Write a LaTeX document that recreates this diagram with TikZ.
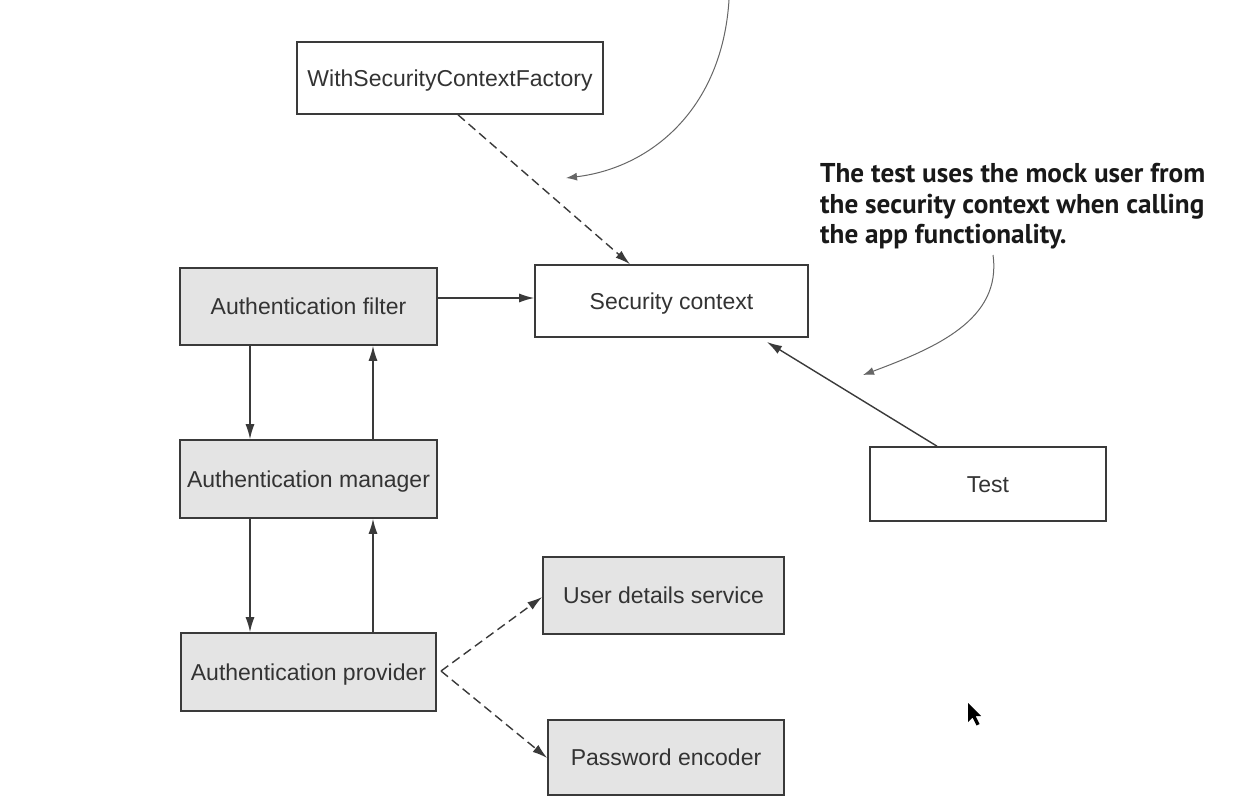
\documentclass[tikz,border=0pt]{standalone}
\usepackage{fontspec}
\setmainfont{Liberation Sans}
\newfontfamily\notefont{PT Sans}
\usetikzlibrary{arrows.meta}
\definecolor{boxgray}{HTML}{E4E4E4}
\definecolor{edge}{HTML}{3A3A3A}
\definecolor{txt}{HTML}{333333}
\tikzset{
  box/.style={draw=edge, line width=1.6pt, fill=white, inner sep=0pt, text=txt,
    text height=16.5pt, text depth=0pt,
    font=\fontsize{23}{26}\selectfont},
  graybox/.style={box, fill=boxgray},
  conn/.style={draw=edge, line width=1.4pt, -{Latex[length=15pt,width=9pt]}},
  dconn/.style={conn, dash pattern=on 9pt off 5pt},
  note/.style={draw=gray!80!black, line width=1pt, -{Latex[length=11pt,width=8pt]}},
}
\begin{document}
\begin{tikzpicture}[x=1pt,y=-1pt]
\useasboundingbox[fill=white] (0,0) rectangle (1244,811);
% nodes
\node[box, minimum width=306pt, minimum height=72pt] (wscf) at (450,78) {WithSecurityContextFactory};
\node[box, minimum width=273pt, minimum height=72pt] (sec) at (671.5,301) {Security context};
\node[graybox, minimum width=257pt, minimum height=77pt] (filt) at (308.5,306.5) {Authentication filter};
\node[graybox, minimum width=257pt, minimum height=78pt] (mgr) at (308.5,479) {Authentication manager};
\node[graybox, minimum width=255pt, minimum height=78pt] (prov) at (308.5,672) {Authentication provider};
\node[graybox, minimum width=241pt, minimum height=77pt] (uds) at (663.5,595.5) {User details service};
\node[graybox, minimum width=236pt, minimum height=75pt] (pe) at (666,757.5) {Password encoder};
\node[box, minimum width=236pt, minimum height=74pt] (test) at (988,484) {Test};
% annotation
\node[anchor=north west, align=left, inner sep=0pt, text=black!90,
      font=\notefont\bfseries\fontsize{27.2}{30.5}\selectfont] (note) at (820,163.5)
  {The test uses the mock user from\\the security context when calling\\the app functionality.};
% connectors
\draw[conn] (filt.east |- 0,298) -- (sec.west |- 0,298);
\draw[conn] (filt.south -| 250,0) -- (mgr.north -| 250,0);
\draw[conn] (mgr.north -| 373,0) -- (filt.south -| 373,0);
\draw[conn] (mgr.south -| 250,0) -- (prov.north -| 250,0);
\draw[conn] (prov.north -| 373,0) -- (mgr.south -| 373,0);
\coordinate (pfork) at (441,671);
\draw[dconn] (pfork) -- (uds.west |- 0,597);
\draw[dconn] (pfork) -- (pe.west |- 0,758);
\draw[dconn] (wscf.south -| 458,0) -- (sec.north -| 630,0);
\draw[conn] (test.north -| 937,0) -- (767,342);
% curved annotation arrows
\coordinate (topstart) at (729,0);
\coordinate (topend) at (566,178);
\draw[note] (topstart) .. controls (722,110) and (650,168) .. (topend);
\coordinate (nstart) at (993,255);
\coordinate (nend) at (863,375);
\draw[note] (nstart) .. controls (1002,320) and (935,348) .. (nend);
% mouse cursor
\fill[black] (968,703) -- (968,722) -- (972.5,717.5) -- (976.5,725.5) -- (979.5,724) -- (975.5,716) -- (981,716) -- cycle;
\end{tikzpicture}
\end{document}
